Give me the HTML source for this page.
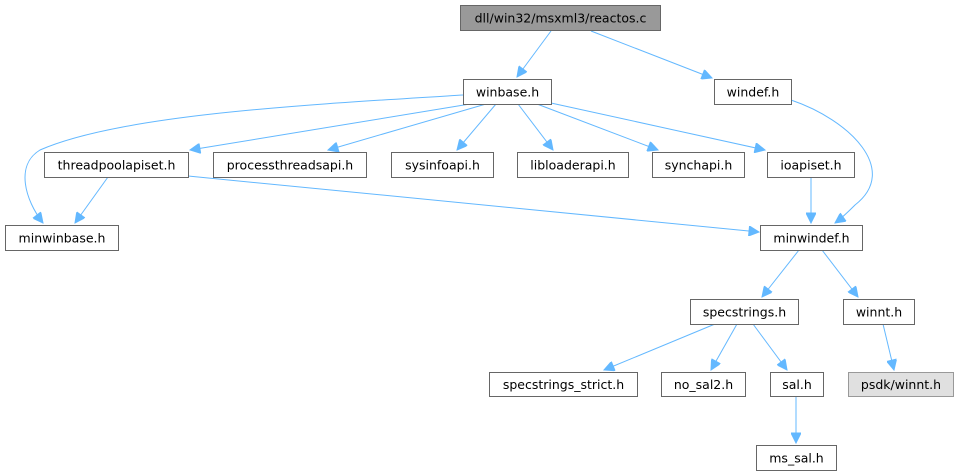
<!DOCTYPE html>
<html><head><meta charset="utf-8"><style>
html,body{margin:0;padding:0;background:#fff;}
svg{display:block;}
text{font-family:"DejaVu Sans","Liberation Sans",sans-serif;font-size:12.5px;fill:#000;}
.n{fill:#fff;stroke:#666;stroke-width:1;}
.e{fill:none;stroke:#63b8ff;stroke-width:1;}
.a{fill:#63b8ff;stroke:#63b8ff;}
</style></head><body>
<svg width="959" height="476" viewBox="0 0 959 476" xmlns="http://www.w3.org/2000/svg">
<defs><marker id="m" viewBox="0 0 10 10" refX="10" refY="5" markerWidth="12" markerHeight="10" markerUnits="userSpaceOnUse" orient="auto"><path d="M0,0 L10,5 L0,10 z" class="a"/></marker></defs>
<g class="e" marker-end="url(#m)">
<path d="M551,31 L517,77"/>
<path d="M591,31 L712,78"/>
<path d="M463,95 C300,105 120,115 40,150 C15,165 25,200 43,223"/>
<path d="M470,104 L190,150"/>
<path d="M486,104 L328,150"/>
<path d="M496,104 L457,150"/>
<path d="M518,104 L553,150"/>
<path d="M537,104 L658,150"/>
<path d="M551,103 L765,150"/>
<path d="M108,177 L75,223"/>
<path d="M188,176 L759,232"/>
<path d="M811,177 L811,223"/>
<path d="M791,100 C850,120 900,170 855,205 C848,212 842,218 835,223"/>
<path d="M799,250 L762,297"/>
<path d="M822,250 L858,297"/>
<path d="M715,324 L604,370"/>
<path d="M737,324 L711,370"/>
<path d="M753,324 L787,370"/>
<path d="M883,324 L894,370"/>
<path d="M796,396 L796,443"/>
</g>
<rect x="460.5" y="5.5" width="200" height="25" fill="#999" stroke="#666"/>
<text x="560.5" y="22.5" text-anchor="middle">dll/win32/msxml3/reactos.c</text>
<g>
<rect class="n" x="463.5" y="79.5" width="88" height="25"/><text x="507.5" y="96.5" text-anchor="middle">winbase.h</text>
<rect class="n" x="714.5" y="79.5" width="77" height="25"/><text x="753" y="96.5" text-anchor="middle">windef.h</text>
<rect class="n" x="44.5" y="152.5" width="144" height="25"/><text x="116.5" y="169.5" text-anchor="middle">threadpoolapiset.h</text>
<rect class="n" x="213.5" y="152.5" width="153" height="25"/><text x="290" y="169.5" text-anchor="middle">processthreadsapi.h</text>
<rect class="n" x="391.5" y="152.5" width="102" height="25"/><text x="442.5" y="169.5" text-anchor="middle">sysinfoapi.h</text>
<rect class="n" x="517.5" y="152.5" width="111" height="25"/><text x="573" y="169.5" text-anchor="middle">libloaderapi.h</text>
<rect class="n" x="652.5" y="152.5" width="92" height="25"/><text x="698.5" y="169.5" text-anchor="middle">synchapi.h</text>
<rect class="n" x="767.5" y="152.5" width="87" height="25"/><text x="811" y="169.5" text-anchor="middle">ioapiset.h</text>
<rect class="n" x="5.5" y="225.5" width="113" height="25"/><text x="62" y="242.5" text-anchor="middle">minwinbase.h</text>
<rect class="n" x="760.5" y="225.5" width="102" height="25"/><text x="811.5" y="242.5" text-anchor="middle">minwindef.h</text>
<rect class="n" x="690.5" y="299.5" width="108" height="25"/><text x="744.5" y="316.5" text-anchor="middle">specstrings.h</text>
<rect class="n" x="843.5" y="299.5" width="71" height="25"/><text x="879" y="316.5" text-anchor="middle">winnt.h</text>
<rect class="n" x="489.5" y="372.5" width="148" height="24"/><text x="563.5" y="389" text-anchor="middle">specstrings_strict.h</text>
<rect class="n" x="661.5" y="372.5" width="84" height="24"/><text x="703.5" y="389" text-anchor="middle">no_sal2.h</text>
<rect class="n" x="770.5" y="372.5" width="53" height="24"/><text x="797" y="389" text-anchor="middle">sal.h</text>
<rect x="848.5" y="372.5" width="105" height="24" fill="#e0e0e0" stroke="#999"/><text x="901" y="389" text-anchor="middle">psdk/winnt.h</text>
<rect class="n" x="756.5" y="445.5" width="80" height="25"/><text x="796.5" y="462.5" text-anchor="middle">ms_sal.h</text>
</g>
</svg>
</body></html>
